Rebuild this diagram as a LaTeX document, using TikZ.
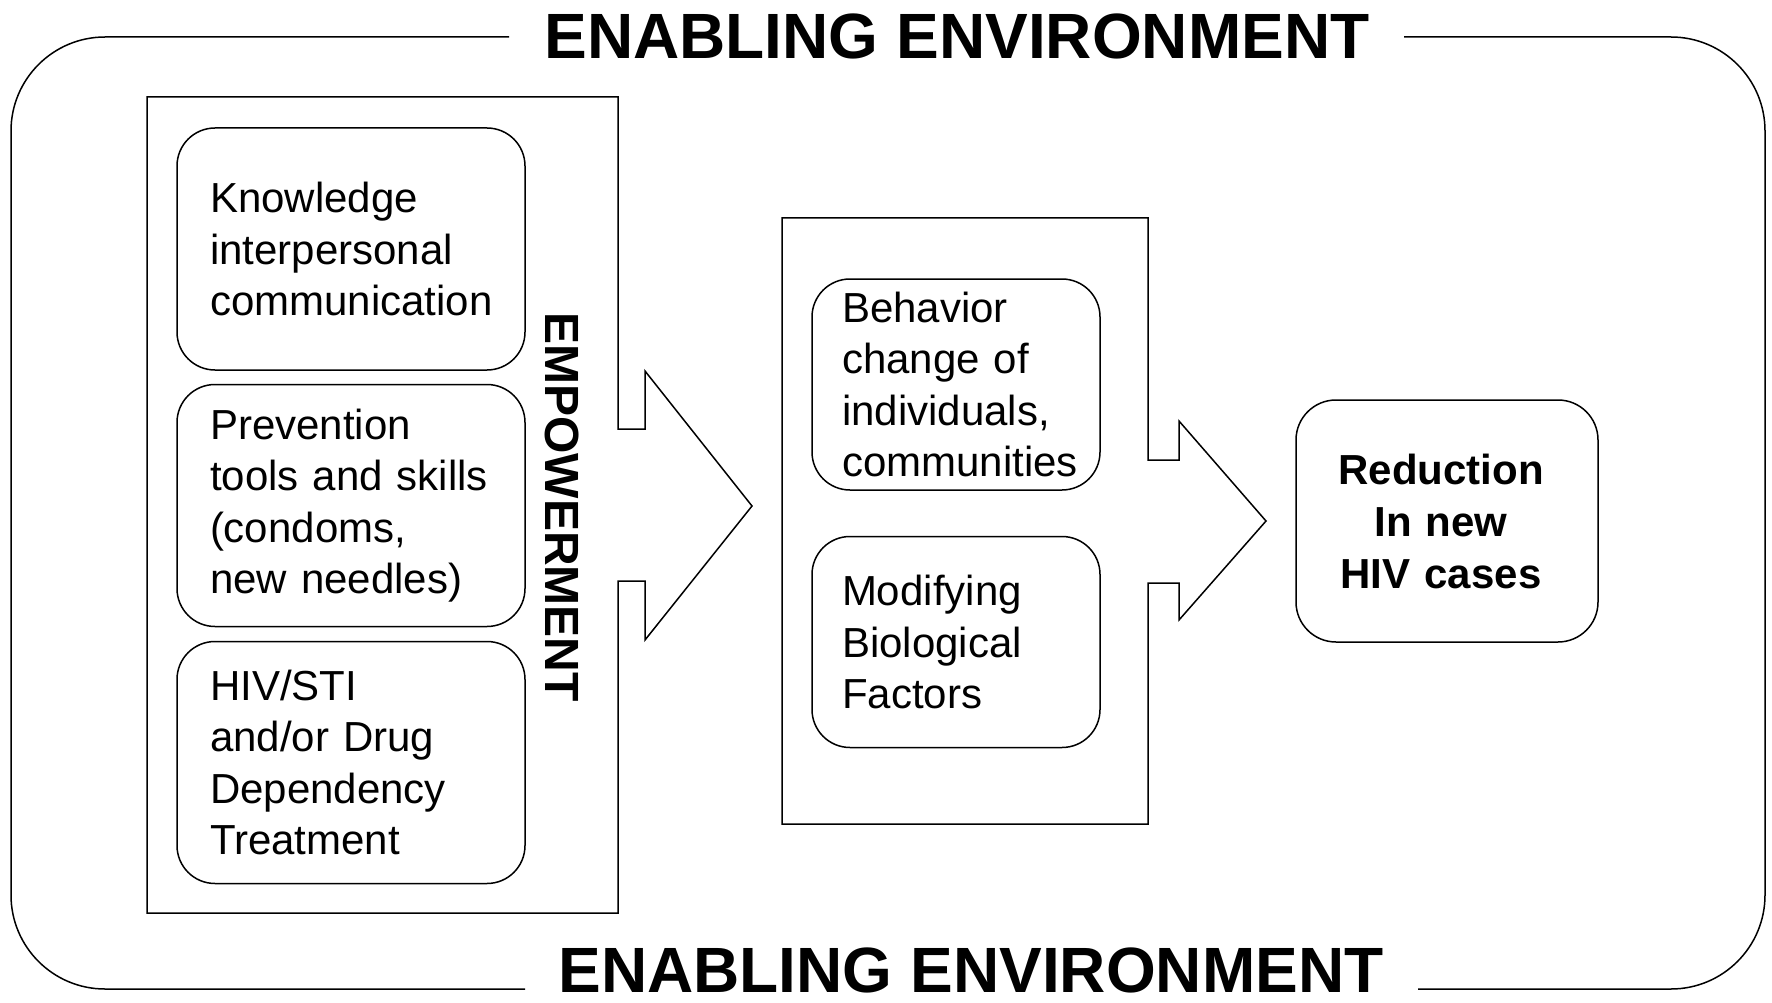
\documentclass[tikz,border=0pt]{standalone}
\usepackage{fontspec}
\setmainfont{Liberation Sans}
\begin{document}
\begin{tikzpicture}[x=1pt,y=-1pt,line width=1.5pt,
  itembox/.style={draw, rounded corners=38pt, inner ysep=0pt, inner xsep=33pt,
    align=left, text width=282pt, minimum height=242pt,
    font=\fontsize{42}{51.5}\selectfont},
  midbox/.style={draw, rounded corners=38pt, inner ysep=0pt, inner xsep=30pt,
    align=left, text width=228pt, minimum height=211pt,
    font=\fontsize{42}{51.5}\selectfont},
  resbox/.style={draw, rounded corners=40pt, inner ysep=0pt, inner xsep=21pt,
    align=center, text width=260pt, minimum height=242pt,
    font=\fontsize{42}{52}\selectfont\bfseries},
  title/.style={inner sep=0pt, font=\fontsize{64}{70}\selectfont\bfseries},
  sidelabel/.style={inner sep=0pt, rotate=-90, font=\fontsize{48}{50}\selectfont\bfseries}]
\useasboundingbox (0,0) rectangle (1772,1003);

% titles
\node[title] (ttop) at (957,36) {ENABLING ENVIRONMENT};
\node[title] (tbot) at (971,970) {ENABLING ENVIRONMENT};

% outer frame
\coordinate (tl) at (509,37);
\coordinate (tr) at (1404,37);
\coordinate (bl) at (525,989);
\coordinate (br) at (1418,989);
\draw[rounded corners=94pt] (tl) -- (11,37) -- (11,989) -- (bl);
\draw[rounded corners=94pt] (tr) -- (1765,37) -- (1765,989) -- (br);

% left container with block arrow
\draw (147,97) -- (618,97) -- (618,429) -- (645,429) -- (645,371) -- (752,506)
  -- (645,640) -- (645,581) -- (618,581) -- (618,913) -- (147,913) -- cycle;

% middle container with block arrow
\draw (782,218) -- (1148,218) -- (1148,460) -- (1179,460) -- (1179,421) -- (1266,521)
  -- (1179,620) -- (1179,583) -- (1148,583) -- (1148,824) -- (782,824) -- cycle;

% left items
\node[itembox] (know) at (351,249) {Knowledge\\interpersonal\\communication};
\node[itembox] (prev) at (351,505.5) {Prevention\\tools and skills\\(condoms,\\new needles)};
\node[itembox] (treat) at (351,762.5) {HIV/STI\\and/or Drug\\Dependency\\Treatment};

\node[sidelabel] (emp) at (562.5,507) {EMPOWERMENT};

% middle items
\node[midbox] (behav) at (956,384.5) {Behavior\\change of\\individuals,\\communities};
\node[midbox] (bio) at (956,642) {Modifying\\Biological\\Factors};

% result
\node[resbox, inner xsep=0pt, text width=302pt] (red) at (1447,521) {\hspace*{-12pt}Reduction\\\hspace*{-12pt}In new\\\hspace*{-12pt}HIV cases};
\end{tikzpicture}
\end{document}
